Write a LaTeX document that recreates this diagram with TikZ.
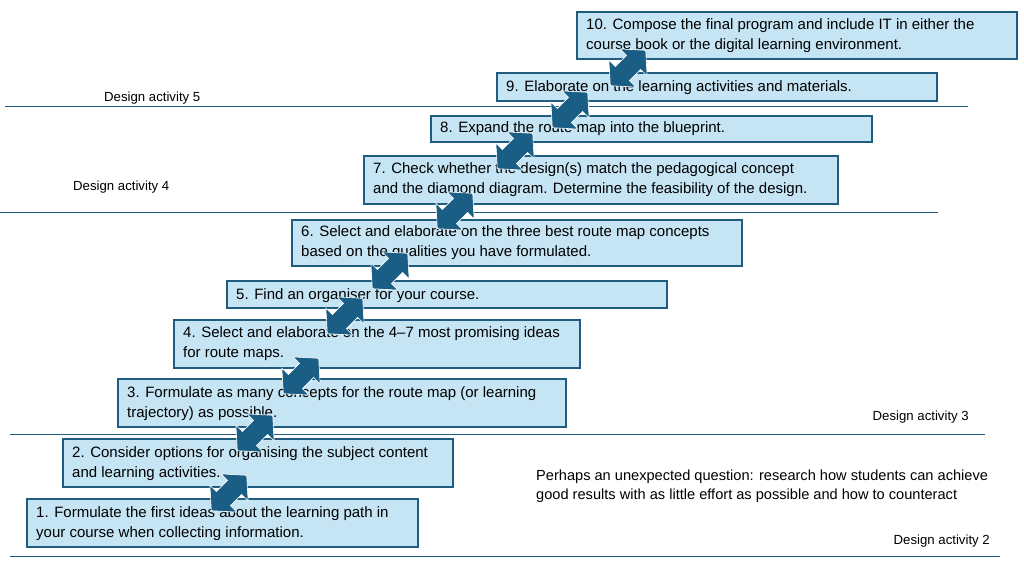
\documentclass[tikz,border=0pt]{standalone}
\usepackage{fontspec}
\setmainfont{Liberation Sans}
\begin{document}
\begin{tikzpicture}[x=1pt,y=-1pt,
 box/.style={draw=boxline,line width=1.3pt,fill=boxfill},
 txt/.style={anchor=north west,align=left,inner sep=0pt,font=\fontsize{15}{20}\selectfont},
 lbl/.style={inner sep=0pt,font=\fontsize{13.2}{15}\selectfont},
 sep/.style={draw=boxline,line width=1pt},
 darr/.pic={\filldraw[fill=arrfill,draw=white,line width=0.6pt,rotate=45]
   (-25,0)--(-8,-19)--(-8,-10)--(8,-10)--(8,-19)--(25,0)--(8,19)--(8,10)--(-8,10)--(-8,19)--cycle;}]
\definecolor{boxfill}{HTML}{C5E4F4}
\definecolor{boxline}{HTML}{1F5C80}
\definecolor{arrfill}{HTML}{1A5E85}
\useasboundingbox (0,0) rectangle (1024,562);
% separators
\draw[sep] (5,106)--(968,106);
\draw[sep] (0,212)--(938,212);
\draw[sep] (10,434)--(985,434);
\draw[sep] (10,556)--(1000,556);
% boxes
\draw[box] (577,12) rectangle (1017,59);
\node[txt] (t10) at (586,18) {10. Compose the final program and include IT in either the\\course book or the digital learning environment.};
\draw[box] (497,73) rectangle (937,101);
\node[txt] (t9) at (506,80) {9. Elaborate on the learning activities and materials.};
\draw[box] (431,116) rectangle (872,142);
\node[txt] (t8) at (440,121) {8. Expand the route map into the blueprint.};
\draw[box] (364,156) rectangle (838,204);
\node[txt] (t7) at (373,162) {7. Check whether the design(s) match the pedagogical concept\\and the diamond diagram. Determine the feasibility of the design.};
\draw[box] (292,220) rectangle (742,266);
\node[txt] (t6) at (301,225) {6. Select and elaborate on the three best route map concepts\\based on the qualities you have formulated.};
\draw[box] (227,281) rectangle (667,308);
\node[txt] (t5) at (236,288) {5. Find an organiser for your course.};
\draw[box] (174,320) rectangle (580,368);
\node[txt] (t4) at (183,326) {4. Select and elaborate on the 4--7 most promising ideas\\for route maps.};
\draw[box] (118,379) rectangle (566,427);
\node[txt] (t3) at (127,386) {3. Formulate as many concepts for the route map (or learning\\trajectory) as possible.};
\draw[box] (63,439) rectangle (453,487);
\node[txt] (t2) at (72,446) {2. Consider options for organising the subject content\\and learning activities.};
\draw[box] (27,499) rectangle (418,547);
\node[txt] (t1) at (36,506) {1. Formulate the first ideas about the learning path in\\your course when collecting information.};
% arrows
\pic at (229,493) {darr};
\pic at (255,433) {darr};
\pic at (301,376) {darr};
\pic at (345,316) {darr};
\pic at (390,271) {darr};
\pic at (455,211) {darr};
\pic at (515,151) {darr};
\pic at (570,110) {darr};
\pic at (628,68) {darr};
% labels
\node[lbl,anchor=west] (d5) at (104,98) {Design activity 5};
\node[lbl,anchor=west] (d4) at (73,187) {Design activity 4};
\node[lbl,anchor=east] (d3) at (969,417) {Design activity 3};
\node[lbl,anchor=east] (d2) at (990,541) {Design activity 2};
\node[txt,font=\fontsize{14.6}{19}\selectfont] (note) at (536,470) {Perhaps an unexpected question: research how students can achieve\\good results with as little effort as possible and how to counteract};
\end{tikzpicture}
\end{document}
